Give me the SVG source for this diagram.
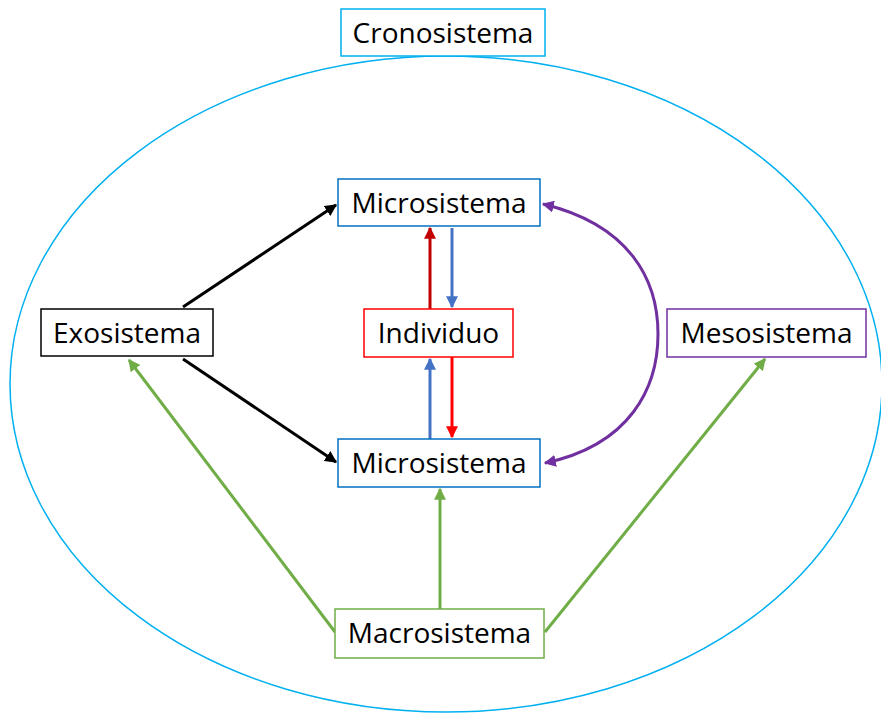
<svg xmlns="http://www.w3.org/2000/svg" width="881" height="713" viewBox="0 0 881 713">
<defs>
<style>
text{font-family:"Open Sans","Noto Sans","Liberation Sans",sans-serif;font-size:28px;fill:#000;text-anchor:middle;dominant-baseline:central}
rect{fill:#fff;stroke-width:1.5}
.c{fill:none;stroke-width:3}
</style>
<marker id="aBlack" viewBox="0 0 10 10" refX="9" refY="5" markerWidth="4" markerHeight="4" orient="auto"><path d="M0,0L10,5L0,10z" fill="#000"/></marker>
<marker id="aDRed" viewBox="0 0 10 10" refX="9" refY="5" markerWidth="4" markerHeight="4" orient="auto"><path d="M0,0L10,5L0,10z" fill="#C00000"/></marker>
<marker id="aRed" viewBox="0 0 10 10" refX="9" refY="5" markerWidth="4" markerHeight="4" orient="auto"><path d="M0,0L10,5L0,10z" fill="#FF0000"/></marker>
<marker id="aBlue" viewBox="0 0 10 10" refX="9" refY="5" markerWidth="4" markerHeight="4" orient="auto"><path d="M0,0L10,5L0,10z" fill="#4472C4"/></marker>
<marker id="aGreen" viewBox="0 0 10 10" refX="9" refY="5" markerWidth="4" markerHeight="4" orient="auto"><path d="M0,0L10,5L0,10z" fill="#70AD47"/></marker>
<marker id="aPurple" viewBox="0 0 10 10" refX="9" refY="5" markerWidth="4" markerHeight="4" orient="auto-start-reverse"><path d="M0,0L10,5L0,10z" fill="#7030A0"/></marker>
</defs>
<rect x="0" y="0" width="881" height="713" fill="#fff" stroke="none"/>
<ellipse cx="446" cy="384" rx="436" ry="328" fill="none" stroke="#00B0F0" stroke-width="1.5"/>
<g id="connectors">
<line class="c" x1="430" y1="309" x2="430" y2="228" stroke="#C00000" marker-end="url(#aDRed)"/>
<line class="c" x1="452" y1="228" x2="452" y2="307" stroke="#4472C4" marker-end="url(#aBlue)"/>
<line class="c" x1="430" y1="439" x2="430" y2="359" stroke="#4472C4" marker-end="url(#aBlue)"/>
<line class="c" x1="452" y1="357" x2="452" y2="437" stroke="#FF0000" marker-end="url(#aRed)"/>
<line class="c" x1="183" y1="307" x2="336" y2="205" stroke="#000" marker-end="url(#aBlack)"/>
<line class="c" x1="183" y1="359" x2="336" y2="462" stroke="#000" marker-end="url(#aBlack)"/>
<line class="c" x1="335" y1="632" x2="129" y2="360" stroke="#70AD47" marker-end="url(#aGreen)"/>
<line class="c" x1="440" y1="609" x2="440" y2="489" stroke="#70AD47" marker-end="url(#aGreen)"/>
<line class="c" x1="545" y1="632" x2="765" y2="359" stroke="#70AD47" marker-end="url(#aGreen)"/>
<path class="c" d="M543,204 C630,225 658,280 658,334 C658,388 630,445 545,463" stroke="#7030A0" marker-start="url(#aPurple)" marker-end="url(#aPurple)"/>
</g>
<g id="cronosistema"><rect x="341" y="9" width="204" height="47" stroke="#00B0F0"/><text x="443" y="32">Cronosistema</text></g>
<g id="microsistema-top"><rect x="338" y="179" width="202" height="47" stroke="#0070C0"/><text x="439" y="202">Microsistema</text></g>
<g id="individuo"><rect x="364" y="309" width="149" height="48" stroke="#FF0000"/><text x="438.5" y="332">Individuo</text></g>
<g id="exosistema"><rect x="41" y="309" width="172" height="47" stroke="#000"/><text x="127" y="332">Exosistema</text></g>
<g id="mesosistema"><rect x="667" y="309" width="199" height="48" stroke="#7030A0"/><text x="766.5" y="332">Mesosistema</text></g>
<g id="microsistema-bottom"><rect x="338" y="439" width="202" height="48" stroke="#0070C0"/><text x="439" y="462">Microsistema</text></g>
<g id="macrosistema"><rect x="335" y="609" width="209" height="49" stroke="#70AD47"/><text x="439.5" y="632">Macrosistema</text></g>
</svg>
